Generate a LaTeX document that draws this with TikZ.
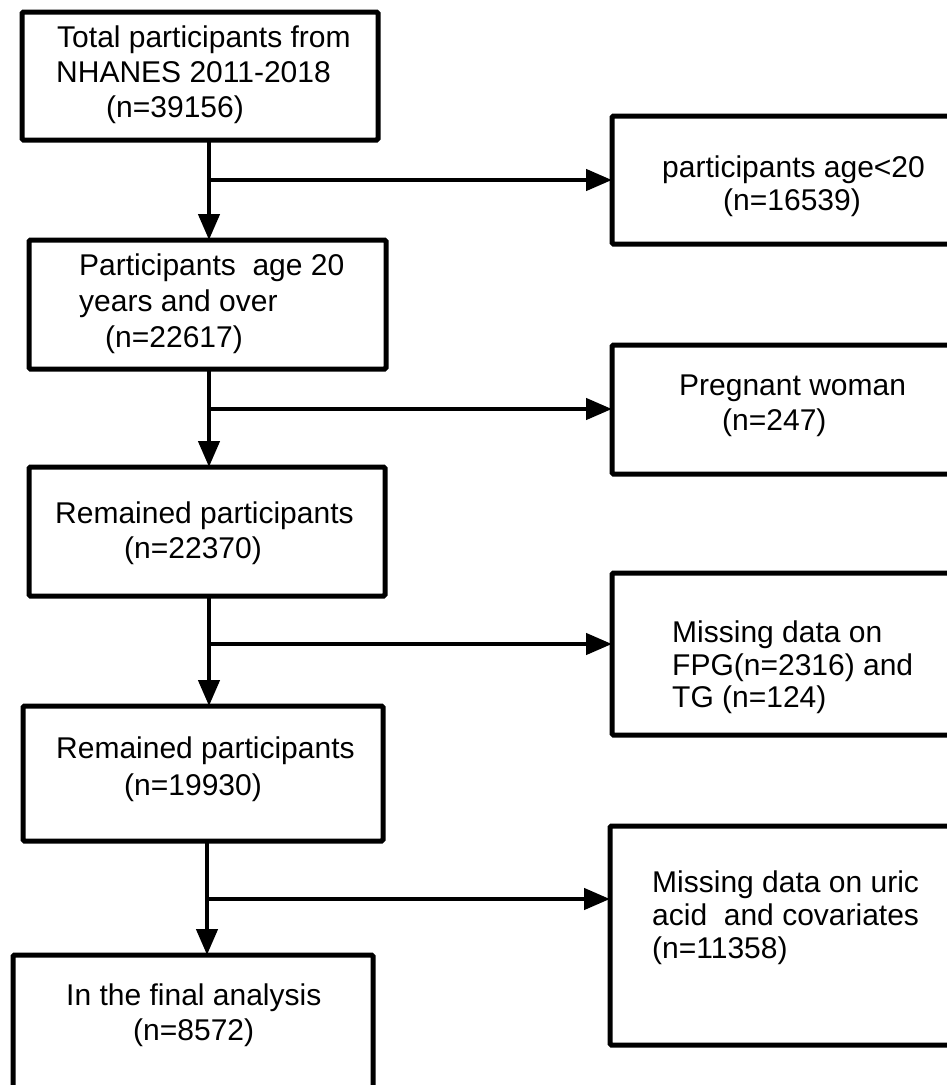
\documentclass[tikz,border=0pt]{standalone}
\usepackage{fontspec}
\setmainfont{Liberation Sans}
\usetikzlibrary{arrows.meta}
\begin{document}
\begin{tikzpicture}[x=1pt,y=-1pt,
  box/.style={draw, line width=5pt, rounded corners=1.5pt, inner sep=0pt, outer sep=0pt, anchor=north west},
  txt/.style={anchor=base west, inner sep=0pt, font=\fontsize{30}{35}\selectfont},
  flow/.style={line width=4.5pt},
  arr/.style={flow, -{Triangle[length=26pt,width=21pt]}}]
\useasboundingbox (0,0) rectangle (947,1085);
\fill[white] (0,0) rectangle (947,1085);
% boxes
\node[box, minimum width=356pt, minimum height=128pt] (b1) at (22,12) {};
\node[box, minimum width=345pt, minimum height=128pt] (b2) at (612,116) {};
\node[box, minimum width=357pt, minimum height=129pt] (b3) at (29,240) {};
\node[box, minimum width=345pt, minimum height=129pt] (b4) at (612,345) {};
\node[box, minimum width=356pt, minimum height=129pt] (b5) at (29,467) {};
\node[box, minimum width=345pt, minimum height=162pt] (b6) at (612,573) {};
\node[box, minimum width=360pt, minimum height=135pt] (b7) at (23,706) {};
\node[box, minimum width=347pt, minimum height=219pt] (b8) at (610,826) {};
\node[box, minimum width=360pt, minimum height=140pt] (b9) at (13,955) {};
% texts
\node[txt] (t1a) at (57,47) {Total participants from};
\node[txt] (t1b) at (56,82) {NHANES 2011-2018};
\node[txt] (t1c) at (106,117) {(n=39156)};
\node[txt] (t2a) at (662,177) {participants age<20};
\node[txt] (t2b) at (723,210) {(n=16539)};
\node[txt] (t3a) at (79,275) {Participants\ \ age 20};
\node[txt] (t3b) at (79,311) {years and over};
\node[txt] (t3c) at (105,347) {(n=22617)};
\node[txt] (t4a) at (679,395) {Pregnant woman};
\node[txt] (t4b) at (722,430) {(n=247)};
\node[txt] (t5a) at (55,523) {Remained participants};
\node[txt] (t5b) at (124,558) {(n=22370)};
\node[txt] (t6a) at (672,642) {Missing data on};
\node[txt] (t6b) at (672,675) {FPG(n=2316) and};
\node[txt] (t6c) at (672,707) {TG (n=124)};
\node[txt] (t7a) at (56,758) {Remained participants};
\node[txt] (t7b) at (124,795) {(n=19930)};
\node[txt] (t8a) at (652,892) {Missing data on uric};
\node[txt] (t8b) at (652,925) {acid\ \ and covariates};
\node[txt] (t8c) at (652,958) {(n=11358)};
\node[txt] (t9a) at (66,1005) {In the final analysis};
\node[txt] (t9b) at (133,1040) {(n=8572)};
% junctions
\coordinate (j1) at (209,180);
\coordinate (j2) at (209,409);
\coordinate (j3) at (209,644);
\coordinate (j4) at (207,899);
% connectors
\draw[arr] (b1.south -| j1) -- (b3.north -| j1);
\draw[arr] (j1) -- (b2.west |- j1);
\draw[arr] (b3.south -| j2) -- (b5.north -| j2);
\draw[arr] (j2) -- (b4.west |- j2);
\draw[arr] (b5.south -| j3) -- (b7.north -| j3);
\draw[arr] (j3) -- (b6.west |- j3);
\draw[arr] (b7.south -| j4) -- (b9.north -| j4);
\draw[arr] (j4) -- (b8.west |- j4);
\end{tikzpicture}
\end{document}
